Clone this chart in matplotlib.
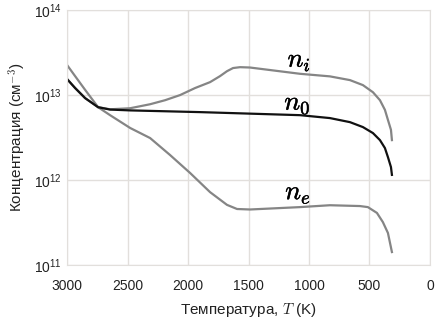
import matplotlib
matplotlib.use("Agg")
import matplotlib.pyplot as plt
import matplotlib.patheffects as pe

plt.rcParams['font.family'] = ['Liberation Sans', 'DejaVu Sans']
plt.rcParams['mathtext.fontset'] = 'cm'

# values (T in K, concentration in cm^-3)
t_e = [3000, 2934, 2851, 2744, 2645, 2479, 2314, 2149, 1983, 1818, 1678, 1595, 1488, 1074,
       827, 579, 513, 438, 389, 347, 314]
n_e = [2.25e13, 1.67e13, 1.15e13, 7.2e12, 5.8e12, 4.1e12, 3.12e12, 1.97e12, 1.21e12, 7.2e11,
       5.1e11, 4.56e11, 4.5e11, 4.8e11, 5.05e11, 4.94e11, 4.8e11, 4.1e11, 3.2e11, 2.38e11,
       1.42e11]

t_0 = [3000, 2934, 2851, 2744, 2645, 2479, 1901, 1074, 827, 661, 554, 471, 413, 372, 347,
       322, 314]
n_0 = [1.54e13, 1.21e13, 9.2e12, 7.2e12, 6.75e12, 6.6e12, 6.3e12, 5.8e12, 5.36e12, 4.8e12,
       4.2e12, 3.57e12, 2.95e12, 2.38e12, 1.86e12, 1.42e12, 1.15e12]

t_i = [3000, 2934, 2851, 2744, 2645, 2479, 2314, 2190, 2066, 1942, 1818, 1736, 1678, 1628,
       1570, 1488, 1074, 827, 661, 554, 471, 413, 372, 347, 322, 314]
n_i = [1.54e13, 1.21e13, 9.2e12, 7.2e12, 6.8e12, 7.0e12, 7.8e12, 8.7e12, 1.0e13, 1.21e13,
       1.42e13, 1.67e13, 1.91e13, 2.08e13, 2.13e13, 2.11e13, 1.78e13, 1.66e13, 1.5e13,
       1.31e13, 1.08e13, 8.7e12, 6.7e12, 5.1e12, 3.9e12, 2.95e12]

fig = plt.figure(figsize=(4.36, 3.21), dpi=100)
ax = fig.add_axes([0.154, 0.1745, 0.832, 0.794])

gray = '#858585'
ax.plot(t_i, n_i, color=gray, lw=1.6)
ax.plot(t_e, n_e, color=gray, lw=1.6)
ax.plot(t_0, n_0, color='#111111', lw=1.6)

ax.set_yscale('log')
ax.set_ylim(1e11, 1e14)
ax.set_xlim(3000, 0)
ax.set_xticks([3000, 2500, 2000, 1500, 1000, 500, 0])
ax.set_yticks([1e11, 1e12, 1e13, 1e14])
ax.minorticks_off()

ax.grid(True, color='#e2dfdc', lw=1)
ax.set_axisbelow(True)
for s in ax.spines.values():
    s.set_color('#e2dfdc')
ax.tick_params(length=0, labelsize=10, colors='#222222')
ax.tick_params(axis='x', pad=10)
ax.tick_params(axis='y', pad=4)

bold = [pe.withStroke(linewidth=0.35, foreground='black')]
ax.text(1080, 2.5e13, r'$n_i$', fontsize=19, ha='center', va='center', path_effects=bold)
ax.text(1095, 7.8e12, r'$n_0$', fontsize=19, ha='center', va='center', path_effects=bold)
ax.text(1090, 6.9e11, r'$n_e$', fontsize=19, ha='center', va='center', path_effects=bold)

ax.set_xlabel(r'Температура, $T$ (K)', fontsize=11, color='#222222', labelpad=6)
ax.set_ylabel(r'Концентрация (см$^{-3}$)', fontsize=11, color='#222222', labelpad=4)

fig.savefig('out.png', dpi=100)
